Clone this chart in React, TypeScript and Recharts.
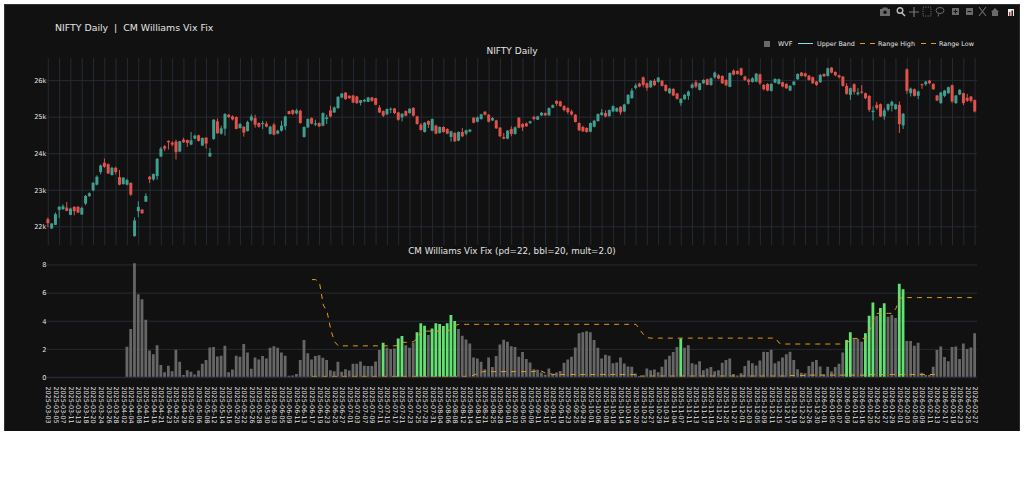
import React from "react";
import { ComposedChart, Bar, Line, Cell, XAxis, YAxis, CartesianGrid } from "recharts";

const tickDates = [
  "2025-03-03","2025-03-05","2025-03-07","2025-03-11","2025-03-13","2025-03-18","2025-03-20","2025-03-24","2025-03-26","2025-03-28",
  "2025-04-02","2025-04-04","2025-04-08","2025-04-11","2025-04-16","2025-04-21","2025-04-23","2025-04-25","2025-04-29","2025-05-02",
  "2025-05-06","2025-05-08","2025-05-12","2025-05-14","2025-05-16","2025-05-20","2025-05-22","2025-05-26","2025-05-28","2025-05-30",
  "2025-06-03","2025-06-05","2025-06-09","2025-06-11","2025-06-13","2025-06-17","2025-06-19","2025-06-23","2025-06-25","2025-06-27",
  "2025-07-01","2025-07-03","2025-07-07","2025-07-09","2025-07-11","2025-07-15","2025-07-17","2025-07-21","2025-07-23","2025-07-25",
  "2025-07-29","2025-07-31","2025-08-04","2025-08-06","2025-08-08","2025-08-12","2025-08-14","2025-08-19","2025-08-21","2025-08-25",
  "2025-08-28","2025-09-01","2025-09-03","2025-09-05","2025-09-09","2025-09-11","2025-09-15","2025-09-17","2025-09-19","2025-09-23",
  "2025-09-25","2025-09-29","2025-10-01","2025-10-06","2025-10-08","2025-10-10","2025-10-14","2025-10-16","2025-10-20","2025-10-23",
  "2025-10-27","2025-10-29","2025-10-31","2025-11-04","2025-11-07","2025-11-11","2025-11-13","2025-11-17","2025-11-19","2025-11-21",
  "2025-11-25","2025-11-27","2025-12-01","2025-12-03","2025-12-05","2025-12-09","2025-12-11","2025-12-15","2025-12-17","2025-12-19",
  "2025-12-23","2025-12-26","2025-12-30","2026-01-01","2026-01-05","2026-01-07","2026-01-09","2026-01-13","2026-01-16","2026-01-20",
  "2026-01-22","2026-01-27","2026-01-29","2026-02-01","2026-02-03","2026-02-05","2026-02-09","2026-02-11","2026-02-13","2026-02-17",
  "2026-02-19","2026-02-23","2026-02-25","2026-02-27",
];

const opens = [
  22209,21955,22054,22463,22481,22526,22327,22544,22544,22336,22635,22844,22998,23152,23497,23751,23714,23415,23614,23361,
  23170,23152,23197,21746,22426,22472,22689,23370,23297,23388,23923,24204,24349,24304,24331,24059,24385,24376,24249,24413,
  24503,24222,24440,23923,24404,24884,24549,24685,25066,25020,25002,24703,24739,24621,24911,24975,24839,24821,24821,24540,
  24794,24549,24630,24748,25166,25193,25102,25175,24458,24721,24975,24794,24839,24766,24948,25184,25129,25247,25537,25673,
  25583,25592,25565,25392,25429,25419,25537,25519,25265,25166,25075,25202,25238,25129,24993,25166,25111,25256,25020,24794,
  24594,24893,24630,24766,24567,24730,24676,24458,24567,24358,24594,24549,24603,24984,24875,24948,25147,25066,24911,24911,
  24712,24458,24413,24676,24540,24984,24812,24830,24839,25002,24930,25048,25111,25048,25256,25447,25429,25301,25247,25156,
  25066,24839,24730,24703,24603,24739,24893,25057,25111,25029,25156,25156,25283,25156,25365,25519,25800,25918,26091,25927,
  25818,25991,25964,26000,25882,25655,25773,25646,25383,25492,25583,25800,25955,25746,25927,26036,25882,26091,26145,26127,
  26018,25828,26272,26263,26335,26109,26027,25964,25973,26172,25882,25909,25719,25945,25909,25955,25909,25728,25882,26036,
  26218,26199,26136,26091,25973,25955,26181,26127,26354,26236,26145,26109,25855,25610,25900,25628,25701,25655,25583,25138,
  25338,25356,25020,25202,25311,25220,25338,24775,26308,25655,25764,25583,25900,25900,26000,25909,25592,25383,25583,25655,
  25873,25383,25619,25655,25528,25564,25465,
];
const highs = [
  22254,22100,22390,22553,22617,22680,22526,22562,22571,22553,22871,22943,23215,23406,23705,23868,23732,23642,23642,23551,
  23361,23315,23224,22254,22698,22481,22916,23388,23460,23877,24186,24240,24367,24340,24385,24349,24440,24385,24594,24521,
  24521,24440,24449,24159,24948,24966,24766,25111,25084,25048,25020,24839,24748,24902,25075,25066,24857,24893,24884,24766,
  24839,24657,24902,25039,25175,25211,25229,25202,24748,24966,24993,24930,24857,25129,25066,25311,25292,25573,25655,25682,
  25601,25610,25583,25474,25492,25555,25555,25528,25329,25184,25238,25265,25247,25147,25111,25184,25247,25265,25039,24839,
  24866,24911,24966,24794,24748,24748,24694,24630,24585,24612,24703,24657,24676,25002,25020,25093,25166,25084,25002,24930,
  24730,24567,24648,24748,24748,25002,24839,24857,24902,25039,25039,25138,25129,25265,25347,25456,25447,25329,25274,25202,
  25084,24857,24766,24721,24857,24930,25102,25220,25184,25211,25320,25265,25301,25365,25628,25791,25918,25945,26109,25945,
  26009,26045,26100,26018,25900,25800,25791,25664,25519,25637,25728,25927,26018,25945,26036,26054,26082,26245,26181,26145,
  26036,26227,26308,26281,26354,26136,26054,26091,26208,26190,25909,25927,25927,26063,26054,25973,25927,25873,25991,26199,
  26236,26218,26154,26109,25991,26181,26199,26354,26372,26254,26163,26127,25927,25810,25927,25791,25873,25673,25601,25292,
  25419,25374,25247,25374,25455,25365,25428,25111,26335,25810,25782,25728,25918,25991,26018,25927,25610,25692,25746,25837,
  25891,25610,25764,25673,25637,25583,25483,
];
const lows = [
  21991,21936,22045,22236,22463,22426,22317,22317,22372,22327,22590,22816,22970,23134,23433,23614,23442,23406,23433,23134,
  23152,23134,22844,21728,22263,22354,22680,23197,23261,23288,23905,24068,24113,24204,23841,24041,24295,24186,24231,24394,
  24331,24213,24140,23914,24376,24549,24521,24494,24975,24911,24667,24685,24467,24603,24884,24712,24712,24676,24721,24521,
  24503,24531,24603,24648,25075,25057,25075,24821,24440,24703,24803,24757,24730,24748,24812,24993,25111,25229,25519,25474,
  25501,25383,25365,25320,25410,25410,25419,25329,25111,25002,25057,25111,25084,24902,24884,25020,25093,25020,24794,24630,
  24576,24703,24612,24531,24549,24576,24531,24331,24322,24340,24449,24503,24585,24830,24857,24930,25048,24857,24893,24676,
  24458,24394,24394,24476,24522,24694,24621,24739,24812,24911,24921,25029,25039,25039,25247,25311,25283,25156,25093,25039,
  24857,24621,24594,24576,24585,24721,24875,25039,24993,25011,25138,25138,25057,25138,25347,25501,25764,25818,25818,25728,
  25800,25855,25945,25837,25692,25637,25574,25483,25311,25474,25474,25782,25791,25728,25909,25873,25855,26054,26036,25909,
  25846,25818,26145,26163,26127,25991,25882,25945,25955,25882,25728,25710,25701,25927,25891,25818,25773,25710,25864,26018,
  26109,26100,26000,25909,25855,25936,26100,26109,26199,26118,26063,25837,25610,25474,25619,25592,25637,25492,25147,24911,
  25202,25002,24930,25156,25156,25202,24567,24676,25637,25564,25564,25492,25773,25855,25900,25746,25438,25365,25546,25637,
  25383,25365,25601,25329,25419,25401,25129,
];
const closes = [
  22100,22091,22345,22553,22562,22435,22499,22426,22390,22517,22844,22916,23206,23370,23678,23642,23460,23614,23497,23152,
  23342,23279,22880,22172,22544,22372,22844,23297,23442,23859,24140,24140,24313,24249,24041,24340,24313,24295,24367,24494,
  24349,24431,24277,24023,24930,24558,24694,25084,25002,24939,24676,24812,24576,24866,25020,24794,24739,24839,24739,24739,
  24521,24630,24766,25020,25084,25093,25184,24839,24730,24948,24821,24830,24748,25111,24993,25020,25265,25555,25646,25492,
  25519,25401,25383,25465,25474,25537,25447,25338,25129,25039,25220,25229,25111,24930,25093,25039,25229,25039,24812,24649,
  24848,24794,24948,24549,24730,24594,24549,24612,24340,24594,24476,24639,24657,24848,24993,25075,25066,24875,24975,24694,
  24476,24413,24630,24540,24721,24712,24721,24748,24884,24948,25020,25120,25048,25247,25329,25365,25301,25193,25138,25075,
  24866,24639,24612,24594,24839,24902,25084,25129,25020,25193,25301,25247,25129,25347,25610,25728,25864,25837,25882,25800,
  25991,25873,26082,25855,25719,25782,25592,25501,25501,25610,25701,25891,25837,25927,26018,25882,26063,26218,26054,25927,
  25873,26208,26163,26181,26154,26018,25964,26063,26190,25927,25764,25728,25909,26045,26036,25837,25791,25855,25973,26181,
  26127,26118,26018,25927,25882,26154,26118,26335,26218,26145,26091,25855,25637,25791,25691,25673,25673,25519,25202,25175,
  25247,25020,25184,25356,25419,25347,24812,25093,25719,25782,25583,25701,25873,25973,25927,25764,25456,25673,25728,25818,
  25429,25592,25746,25383,25447,25447,25156,
];

const wvf = [
  0,0,0,0,0,0,0,0,0,0,0,0,0,0,0,0,0,0,0,0,0,
  2.19,3.44,8.12,5.91,5.56,4.11,1.92,1.66,2.30,0.88,0.38,0.83,0.45,1.97,1.12,0.17,0.52,0.40,0.21,
  0.50,0.97,1.24,2.14,2.16,1.50,1.54,2.26,0.38,0.57,1.54,1.47,2.38,1.78,0.62,1.43,1.28,1.52,1.35,2.11,
  2.23,2.11,1.78,1.54,0.12,0.14,0.24,1.24,2.66,1.73,1.28,1.52,1.59,1.40,1.24,0.52,0.45,1.12,0.40,0.59,
  0.50,0.97,0.97,1.14,0.83,0.81,0.81,1.14,1.95,2.47,2.11,2.02,2.07,2.78,2.95,2.30,2.11,2.47,3.21,3.85,
  3.68,3.02,3.49,3.85,3.80,3.66,3.85,4.44,4.01,3.44,2.97,2.71,2.42,1.43,1.35,1.12,0.59,1.43,0.74,1.52,
  2.35,2.68,2.54,2.23,2.16,1.47,1.81,1.31,1.07,0.59,0.55,0.36,0.19,0.64,0.24,0.36,0.47,1.05,1.28,1.47,
  2.14,3.14,3.21,3.28,3.21,2.66,2.11,1.35,1.62,1.54,1.02,1.07,1.43,1.00,0.78,0.76,0.29,0.10,0.12,0.64,
  0.52,0.57,0.38,0.76,1.28,1.54,1.81,2.16,2.78,2.11,2.30,1.02,0.93,1.16,0.52,0.64,0.74,0.45,0.52,1.05,
  1.24,1.35,0.24,0.14,0.31,0.81,1.21,1.02,0.86,1.21,1.83,1.81,1.97,1.02,1.16,1.43,1.66,1.83,1.24,0.59,
  0.33,0.31,0.81,1.12,1.24,0.78,0.21,0.76,0.43,0.74,0.97,1.78,2.66,3.21,2.78,2.73,2.54,3.14,4.39,5.34,
  4.39,4.94,5.27,4.32,4.44,4.23,6.67,6.27,2.59,2.59,2.26,2.47,0.33,0.17,0.17,0.76,1.95,2.21,1.45,1.16,
  2.16,2.21,1.31,2.42,2.02,2.14,3.14,
];
const signalBars = [89,93,94,98,99,100,102,103,104,105,106,107,108,168,212,213,217,218,219,221,222,226,227];

const rangeFirstBar = 70;
const rangeHigh = [
  6.96,6.96,6.72,5.15,4.68,3.37,2.54,2.25,2.25,2.25,2.25,2.25,2.25,2.25,2.25,2.25,2.25,2.25,2.25,2.25,
  2.25,2.25,2.25,2.30,2.50,2.50,2.50,2.55,2.80,3.30,3.30,3.30,3.30,3.30,3.30,3.30,3.30,3.45,3.70,3.78,
  3.78,3.78,3.78,3.78,3.78,3.78,3.78,3.78,3.78,3.78,3.78,3.78,3.78,3.78,3.78,3.78,3.78,3.78,3.78,3.78,
  3.78,3.78,3.78,3.78,3.78,3.78,3.78,3.78,3.78,3.78,3.78,3.78,3.78,3.78,3.78,3.78,3.78,3.78,3.78,3.78,
  3.78,3.78,3.78,3.78,3.78,3.78,3.78,3.40,3.05,2.83,2.80,2.80,2.80,2.80,2.80,2.80,2.80,2.80,2.80,2.80,
  2.80,2.80,2.80,2.80,2.80,2.80,2.80,2.80,2.80,2.80,2.80,2.80,2.80,2.80,2.80,2.80,2.80,2.80,2.80,2.80,
  2.80,2.80,2.80,2.80,2.45,2.38,2.38,2.38,2.38,2.38,2.38,2.38,2.38,2.38,2.38,2.38,2.38,2.38,2.38,2.38,
  2.38,2.38,2.42,2.78,2.78,2.78,2.78,2.78,3.37,4.09,4.56,4.56,4.56,4.56,4.56,4.92,5.63,5.68,5.68,5.68,
  5.68,5.68,5.68,5.68,5.68,5.68,5.68,5.68,5.68,5.68,5.68,5.68,5.68,5.68,5.68,5.68,5.68,
];
const rangeLow = [
  0.08,0.08,0.08,0.08,0.08,0.08,0.08,0.08,0.08,0.08,0.08,0.08,0.08,0.08,0.08,0.08,0.08,0.08,0.08,0.08,
  0.08,0.08,0.08,0.08,0.08,0.08,0.08,0.08,0.08,0.08,0.08,0.08,0.08,0.08,0.08,0.08,0.08,0.08,0.08,0.08,
  0.08,0.08,0.08,0.17,0.30,0.40,0.42,0.42,0.42,0.42,0.42,0.42,0.42,0.42,0.42,0.42,0.42,0.42,0.42,0.42,
  0.50,0.45,0.30,0.28,0.22,0.21,0.21,0.21,0.21,0.21,0.21,0.21,0.21,0.21,0.21,0.21,0.21,0.21,0.21,0.21,
  0.21,0.21,0.21,0.21,0.21,0.21,0.20,0.10,0.10,0.10,0.10,0.10,0.10,0.10,0.10,0.10,0.10,0.10,0.10,0.10,
  0.10,0.10,0.10,0.10,0.10,0.10,0.10,0.10,0.10,0.10,0.10,0.10,0.10,0.10,0.10,0.10,0.10,0.10,0.10,0.10,
  0.10,0.10,0.10,0.10,0.10,0.10,0.10,0.14,0.14,0.14,0.14,0.14,0.17,0.17,0.17,0.17,0.17,0.17,0.17,0.17,
  0.17,0.17,0.17,0.17,0.17,0.17,0.17,0.17,0.22,0.21,0.21,0.21,0.21,0.21,0.21,0.21,0.21,0.21,0.21,0.21,
  0.21,0.21,0.21,0.21,0.21,0.21,0.21,
];

const priceTicks = [22000, 23000, 24000, 25000, 26000];
const wvfTicks = [0, 2, 4, 6, 8];
const legendSeries = ["WVF", "Upper Band", "Range High", "Range Low"];

const rows = opens.map((open, i) => ({
  label: i % 2 === 0 ? tickDates[i / 2] : "",
  bar: i,
  open,
  high: highs[i],
  low: lows[i],
  close: closes[i],
  wvf: wvf[i],
  rangeHigh: i >= rangeFirstBar ? rangeHigh[i - rangeFirstBar] : null,
  rangeLow: i >= rangeFirstBar ? rangeLow[i - rangeFirstBar] : null,
}));

const BG = "#111111";
const GRID = "#262a35";
const TEXT = "#e4e4e4";
const UP = "#3f9e8f";
const DOWN = "#e0524c";
const ORANGE = "#e59c1c";
const FONT = "'DejaVu Sans', Verdana, sans-serif";

const Candle = (p: any) => {
  const { x, y, width, height, payload } = p;
  const { open, high, low, close } = payload;
  const color = close >= open ? UP : DOWN;
  const perUnit = Math.abs(height) / (high - low || 1);
  const bodyTop = y + (high - Math.max(open, close)) * perUnit;
  const bodyH = Math.max(1, Math.abs(open - close) * perUnit);
  const cx = x + width / 2;
  return (
    <g>
      <line x1={cx} x2={cx} y1={y} y2={y + Math.abs(height)} stroke={color} strokeWidth={1} />
      <rect x={x} y={bodyTop} width={width} height={bodyH} fill={color} />
    </g>
  );
};

const DateTick = (p: any) => {
  const { x, y, payload } = p;
  return (
    <text
      x={x}
      y={y}
      transform={`rotate(90 ${x} ${y})`}
      fontSize={6.4}
      fontFamily={FONT}
      fill={TEXT}
      textAnchor="start"
      dominantBaseline="central"
    >
      {payload.value}
    </text>
  );
};

const NoTick = () => <g />;

const abs = (left: number, top: number): React.CSSProperties => ({
  position: "absolute",
  left,
  top,
  whiteSpace: "pre",
  color: TEXT,
  fontFamily: FONT,
  lineHeight: 1,
});

const ModeBar = () => (
  <svg width={150} height={16} style={{ position: "absolute", left: 866, top: 0 }} fill="#6a6a6a" stroke="none">
    <path d="M10 5h2l1-1.5h4l1 1.5h2v7H10z" />
    <circle cx={15} cy={8.2} r={1.7} fill={BG} />
    <circle cx={30} cy={6.5} r={2.8} fill="none" stroke="#bbb" strokeWidth={1.4} />
    <path d="M32 9l3 3" stroke="#bbb" strokeWidth={1.6} />
    <path d="M44 3v10M39 8h10" stroke="#777" strokeWidth={1.2} />
    <rect x={53} y={3} width={8} height={9} fill="none" stroke="#6a6a6a" strokeDasharray="1.2 1.2" />
    <ellipse cx={70} cy={6.5} rx={4} ry={3} fill="none" stroke="#6a6a6a" />
    <path d="M69 9.5l-1 3" stroke="#6a6a6a" />
    <rect x={82} y={4} width={7} height={7} />
    <path d="M85.5 5.5v4M83.5 7.5h4" stroke={BG} />
    <rect x={96} y={4} width={7} height={7} />
    <path d="M97.5 7.5h4" stroke={BG} />
    <path d="M109 3l7 9M116 3l-7 9" stroke="#6a6a6a" strokeWidth={1.1} />
    <path d="M121 8l4-4 4 4h-1v4h-6V8z" />
    <rect x={138} y={5} width={6} height={7} fill="#eee" />
    <rect x={139} y={8} width={1.4} height={4} fill="#c33" />
    <rect x={141.5} y={6.5} width={1.4} height={5.5} fill="#111" />
  </svg>
);

const Legend = () => (
  <div style={{ position: "absolute", left: 0, top: 0 }}>
    <div style={{ position: "absolute", left: 760.4, top: 36.5, width: 6, height: 6, background: "#6a6a6a" }} />
    <span style={{ ...abs(774, 36.5), fontSize: 6.4 }}>{legendSeries[0]}</span>
    <div style={{ position: "absolute", left: 794, top: 39, width: 15, height: 1, background: "#7fe3e3" }} />
    <span style={{ ...abs(813, 36.5), fontSize: 6.4 }}>{legendSeries[1]}</span>
    <div style={{ position: "absolute", left: 856, top: 39, width: 15, height: 1, background: `repeating-linear-gradient(90deg, ${ORANGE} 0 5px, transparent 5px 10px)` }} />
    <span style={{ ...abs(874, 36.5), fontSize: 6.4 }}>{legendSeries[2]}</span>
    <div style={{ position: "absolute", left: 917, top: 39, width: 15, height: 1, background: `repeating-linear-gradient(90deg, ${ORANGE} 0 5px, transparent 5px 10px)` }} />
    <span style={{ ...abs(935, 36.5), fontSize: 6.4 }}>{legendSeries[3]}</span>
  </div>
);

export default function App() {
  return (
    <div
      style={{
        position: "absolute",
        left: 4,
        top: 4,
        width: 1016,
        height: 427,
        background: BG,
        overflow: "hidden",
        boxShadow: "inset 1px 1px 0 #333333, inset -1px 0 0 #2a2a2a",
      }}
    >
      <ModeBar />
      <span style={{ ...abs(51, 19), fontSize: 9.4 }}>{"NIFTY Daily  |  CM Williams Vix Fix"}</span>
      <div style={{ ...abs(0, 43), width: 1016, textAlign: "center", fontSize: 9 }}>NIFTY Daily</div>
      <div style={{ ...abs(0, 242.5), width: 1016, textAlign: "center", fontSize: 8.75 }}>
        {"CM Williams Vix Fix (pd=22, bbl=20, mult=2.0)"}
      </div>
      <Legend />

      <div style={{ position: "absolute", left: 0, top: 0 }}>
        <ComposedChart
          width={1015}
          height={244}
          data={rows}
          margin={{ top: 54, right: 42, bottom: 2, left: 0 }}
          barCategoryGap={0}
        >
          <CartesianGrid stroke={GRID} strokeWidth={1} syncWithTicks />
          <XAxis dataKey="bar" interval={2} height={1} tick={<NoTick />} axisLine={false} tickLine={false} />
          <YAxis
            width={42.4}
            domain={[21502, 26618]}
            allowDataOverflow
            ticks={priceTicks}
            tickFormatter={(v: number) => `${v / 1000}k`}
            tick={{ fontSize: 6.6, fontFamily: FONT, fill: TEXT }}
            axisLine={false}
            tickLine={false}
            tickSize={0}
            tickMargin={0}
          />
          <Bar dataKey={(d: any) => [d.low, d.high]} barSize={3} shape={Candle} isAnimationActive={false} />
        </ComposedChart>
      </div>

      <div style={{ position: "absolute", left: 0, top: 246 }}>
        <ComposedChart
          width={1015}
          height={181}
          data={rows}
          margin={{ top: 13, right: 42, bottom: 0, left: 0 }}
          barCategoryGap={0}
        >
          <CartesianGrid stroke={GRID} strokeWidth={1} vertical={false} syncWithTicks />
          <XAxis
            dataKey="label"
            interval={1}
            height={53.5}
            tick={<DateTick />}
            axisLine={{ stroke: GRID, strokeWidth: 1.5 }}
            tickLine={false}
            tickSize={0}
            tickMargin={9}
          />
          <YAxis
            width={42.4}
            domain={[0, 8.14]}
            allowDataOverflow
            ticks={wvfTicks}
            tick={{ fontSize: 6.6, fontFamily: FONT, fill: TEXT }}
            axisLine={false}
            tickLine={false}
            tickSize={0}
            tickMargin={0}
          />
          <Bar dataKey="wvf" barSize={2.8} isAnimationActive={false}>
            {rows.map((_, i) => (
              <Cell key={i} fill={signalBars.includes(i) ? "#62e272" : "#666666"} />
            ))}
          </Bar>
          <Line dataKey="rangeHigh" stroke={ORANGE} strokeWidth={1} strokeDasharray="5 5" dot={false} activeDot={false} connectNulls={false} isAnimationActive={false} />
          <Line dataKey="rangeLow" stroke={ORANGE} strokeWidth={1} strokeDasharray="5 5" dot={false} activeDot={false} connectNulls={false} isAnimationActive={false} />
        </ComposedChart>
      </div>
    </div>
  );
}
